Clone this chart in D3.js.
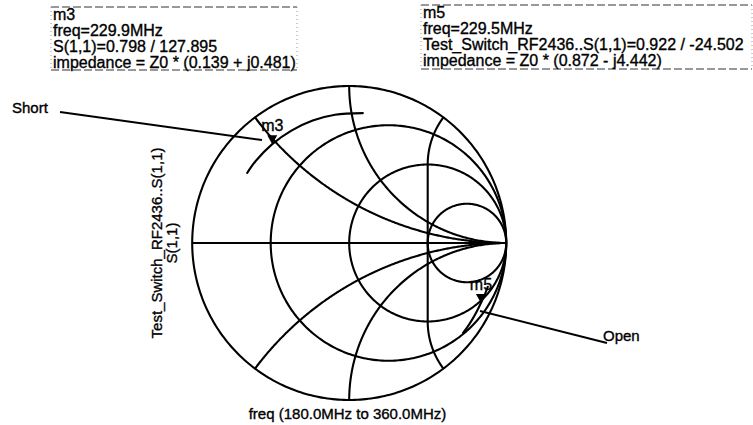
<!DOCTYPE html>
<html>
<head>
<meta charset="utf-8">
<script src="https://cdn.jsdelivr.net/npm/d3@7"></script>
<style>
  html, body { margin: 0; padding: 0; background: #fff; }
  svg { display: block; font-family: "Liberation Sans", Arial, Helvetica, sans-serif; }
  svg text { fill: #000; stroke: #000; stroke-width: 0.35px; }
</style>
</head>
<body>
<svg id="chart" width="753" height="425"></svg>
<script>
// ---- Smith chart grid --------------------------------------------------
// Constant-resistance circles (normalised r)
const resistanceCircles = [0, 1 / 3, 1, 3];
// Constant-reactance arcs (normalised x) and the resistance where each arc stops
const reactanceValues = [0.5, -0.5, 1, -1, 2, -2];
const reactanceEnds = [Infinity, Infinity, Infinity, Infinity, 1, 1];
// Straight grid connector in the reflection plane, [re, im]
const gridConnector = [[0.5, 0.5], [0.5, -0.5]];

// ---- S(1,1) sweeps, 180-360 MHz -----------------------------------------
// "Short" standard
const shortFreq = [180, 200, 229.9, 260, 290, 320, 360];
const shortMag  = [0.788, 0.792, 0.798, 0.805, 0.814, 0.822, 0.832];
const shortAng  = [145.5, 138.9, 127.895, 117.2, 106.6, 96.3, 84.0];
// "Open" standard
const openFreq = [180, 200, 229.5, 260, 300, 330, 360];
const openMag  = [0.926, 0.924, 0.922, 0.922, 0.923, 0.924, 0.924];
const openAng  = [-17.5, -20.6, -24.502, -28.0, -32.4, -35.6, -38.3];

// ---- markers -------------------------------------------------------------
const markerNames = ["m3", "m5"];
const markerMag   = [0.798, 0.922];
const markerAng   = [127.895, -24.502];

// ---- marker readouts -----------------------------------------------------
const m3Readout = ["m3", "freq=229.9MHz", "S(1,1)=0.798 / 127.895",
                   "impedance = Z0 * (0.139 + j0.481)"];
const m5Readout = ["m5", "freq=229.5MHz", "Test_Switch_RF2436..S(1,1)=0.922 / -24.502",
                   "impedance = Z0 * (0.872 - j4.442)"];

// ---- axis texts ----------------------------------------------------------
const traceLabelLines = ["Test_Switch_RF2436..S(1,1)", "S(1,1)"];
const sweepLabel = "freq (180.0MHz to 360.0MHz)";
const calloutLabels = ["Short", "Open"];

// =========================================================================
const svg = d3.select("#chart");
svg.append("rect").attr("width", 753).attr("height", 425).attr("fill", "#fff");

// reflection-plane scales
const gx = d3.scaleLinear().domain([-1, 1]).range([192.2, 506.2]);
const gy = d3.scaleLinear().domain([-1, 1]).range([400, 86]);
const line = d3.line().x(d => gx(d[0])).y(d => gy(d[1]));
const smooth = d3.line().x(d => gx(d[0])).y(d => gy(d[1])).curve(d3.curveCatmullRom);

// impedance -> reflection coefficient
function gamma(r, x) {
  if (!isFinite(r)) return [1, 0];
  const den = (r + 1) * (r + 1) + x * x;
  return [(r * r + x * x - 1) / den, (2 * x) / den];
}
const polar = (m, a) => [m * Math.cos(a * Math.PI / 180), m * Math.sin(a * Math.PI / 180)];

const grid = svg.append("g")
  .attr("fill", "none").attr("stroke", "#000").attr("stroke-width", 2.1);

// resistance circles
resistanceCircles.forEach(r => {
  const c = r / (1 + r), rad = 1 / (1 + r);
  const pts = d3.range(0, 361, 1).map(t => [c + rad * Math.cos(t * Math.PI / 180),
                                            rad * Math.sin(t * Math.PI / 180)]);
  grid.append("path").attr("d", line(pts));
});

// real axis
grid.append("path").attr("d", line([[-1, 0], [1, 0]]));

// reactance arcs
reactanceValues.forEach((x, i) => {
  const phiEnd = Math.atan(reactanceEnds[i]);
  const pts = d3.range(0, 301).map(k => {
    const phi = phiEnd * k / 300;
    return gamma(k === 300 && !isFinite(reactanceEnds[i]) ? Infinity : Math.tan(phi), x);
  });
  grid.append("path").attr("d", line(pts));
});

// connector
grid.append("path").attr("d", line(gridConnector));

// traces
const traces = svg.append("g")
  .attr("fill", "none").attr("stroke", "#000").attr("stroke-width", 2.1)
  .attr("stroke-linecap", "round");
traces.append("path")
  .attr("d", smooth(shortFreq.map((f, i) => polar(shortMag[i], shortAng[i]))));
traces.append("path")
  .attr("d", smooth(openFreq.map((f, i) => polar(openMag[i], openAng[i]))));

// markers
markerNames.forEach((name, i) => {
  const p = polar(markerMag[i], markerAng[i]);
  const px = gx(p[0]), py = gy(p[1]);
  svg.append("path")
    .attr("d", `M${px},${py} L${px - 5},${py - 9} L${px + 5},${py - 9} Z`)
    .attr("fill", "#000");
  svg.append("text")
    .attr("x", px).attr("y", py - 13)
    .attr("text-anchor", "middle").attr("font-size", 16)
    .text(name);
});

// callouts
const callouts = svg.append("g").attr("stroke", "#000").attr("stroke-width", 2);
callouts.append("line").attr("x1", 60).attr("y1", 112).attr("x2", 262).attr("y2", 140);
callouts.append("line").attr("x1", 480).attr("y1", 311).attr("x2", 607).attr("y2", 343);
svg.append("text").attr("x", 12).attr("y", 113).attr("font-size", 15).text(calloutLabels[0]);
svg.append("text").attr("x", 603).attr("y", 341).attr("font-size", 15).text(calloutLabels[1]);

// readout boxes
function readout(lines, x0, x1, y0, y1) {
  const g = svg.append("g");
  g.append("line").attr("x1", x0).attr("x2", x1).attr("y1", y0).attr("y2", y0)
    .attr("stroke", "#333").attr("stroke-width", 1).attr("stroke-dasharray", "8 3");
  g.append("line").attr("x1", x0).attr("x2", x1).attr("y1", y1).attr("y2", y1)
    .attr("stroke", "#333").attr("stroke-width", 1).attr("stroke-dasharray", "8 3");
  [x0, x1].forEach(xx => g.append("line").attr("x1", xx).attr("x2", xx)
    .attr("y1", y0).attr("y2", y1)
    .attr("stroke", "#999").attr("stroke-width", 1).attr("stroke-dasharray", "1 3"));
  lines.forEach((t, i) => g.append("text")
    .attr("x", x0 + 2).attr("y", y0 + 13 + i * 16)
    .attr("font-size", 16).text(t));
}
readout(m3Readout, 51, 297, 7, 70);
readout(m5Readout, 421, 752, 5, 69);

// rotated trace label
const yl = svg.append("text")
  .attr("transform", "translate(162,243) rotate(-90)")
  .attr("text-anchor", "middle").attr("font-size", 15);
traceLabelLines.forEach((t, i) => yl.append("tspan")
  .attr("x", 0).attr("dy", i === 0 ? 0 : 15).text(t));

// sweep label
svg.append("text").attr("x", 347.5).attr("y", 419)
  .attr("text-anchor", "middle").attr("font-size", 15).text(sweepLabel);
</script>
</body>
</html>
